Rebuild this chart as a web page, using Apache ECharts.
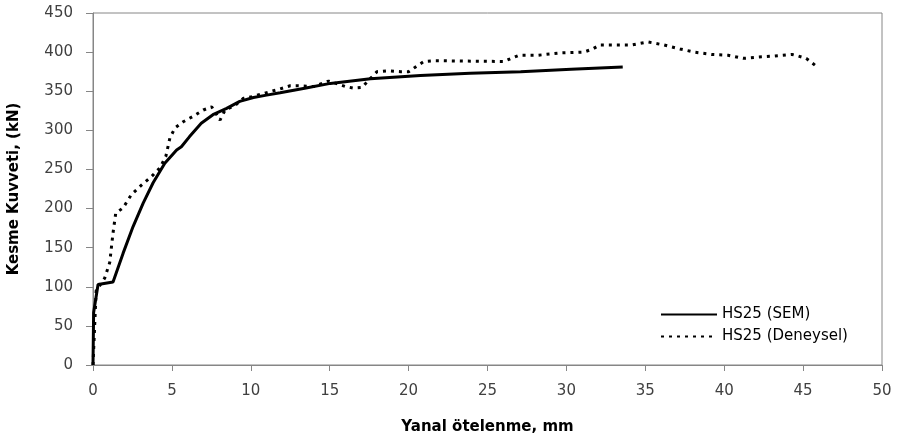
<!DOCTYPE html>
<html>
<head>
<meta charset="utf-8">
<script src="https://cdn.jsdelivr.net/npm/echarts@6/dist/echarts.min.js"></script>
<style>
html,body{margin:0;padding:0;background:#fff;}
#chart{width:903px;height:441px;}
</style>
</head>
<body>
<div id="chart"></div>
<script>
// HS25 (SEM)
var semX = [0, 0.04, 0.32, 1.27, 1.91, 2.54, 3.18, 3.81, 4.55, 5.3, 5.6, 6.12, 6.86, 7.6, 8.47, 9.3, 10.17, 11.0, 11.86, 13.5, 15.04, 17.58, 20.75, 23.9, 27.1, 30.3, 33.57];
var semY = [0, 67, 103, 106, 143, 177, 207, 233, 258, 275, 279, 292, 309, 320, 328, 337, 342, 345, 348, 354, 360, 366, 370, 373, 375, 378, 381];
// HS25 (Deneysel)
var denX = [0, 0.2, 0.74, 1.06, 1.27, 1.44, 1.91, 2.44, 3.07, 3.71, 4.24, 4.62, 4.87, 5.19, 5.72, 6.35, 6.99, 7.52, 7.84, 8.05, 8.37, 9.0, 9.54, 10.07, 11.86, 12.5, 13.03, 14.0, 14.93, 16.0, 16.5, 17.05, 17.37, 18.0, 18.64, 19.5, 20.0, 20.44, 20.97, 21.6, 26.05, 26.5, 27.0, 28.2, 29.65, 31.1, 31.67, 32.09, 34.1, 35.16, 36.2, 37.2, 38.1, 39.2, 40.25, 41.2, 42.4, 43.2, 44.3, 44.7, 45.2, 45.96];
var denY = [0, 95, 111, 131, 169, 194, 201, 218, 230, 241, 252, 267, 290, 303, 311, 318, 326, 330, 320, 313, 326, 332, 341, 343, 353, 357, 357, 356, 363, 356, 354, 355, 362, 375, 376, 375, 375, 381, 388, 389, 388, 392, 396, 396, 399, 400, 404, 409, 409, 413, 409, 404, 400, 397, 396, 392, 394, 395, 397, 395, 392, 380];
var seriesNames = ['HS25 (SEM)', 'HS25 (Deneysel)'];
var xTitle = 'Yanal ötelenme, mm';
var yTitle = 'Kesme Kuvveti, (kN)';

function zip(a, b) { return a.map(function (v, i) { return [v, b[i]]; }); }

var chart = echarts.init(document.getElementById('chart'), null, {renderer: 'canvas'});
var font = '"DejaVu Sans", sans-serif';
chart.setOption({
  animation: false,
  backgroundColor: '#fff',
  grid: {left: 93, right: 21, top: 13, bottom: 76, containLabel: false, outerBoundsMode: 'none',
         show: true, borderColor: '#868686', borderWidth: 1, backgroundColor: 'transparent'},
  legend: {
    left: 655, top: 302, orient: 'vertical', itemGap: 7, itemWidth: 56, itemHeight: 14,
    itemStyle: {opacity: 0},
    textStyle: {fontFamily: font, fontSize: 15, color: '#000'},
    data: seriesNames
  },
  xAxis: {
    type: 'value', min: 0, max: 50, interval: 5,
    name: xTitle, nameLocation: 'middle', nameGap: 55,
    nameTextStyle: {fontFamily: font, fontSize: 15, fontWeight: 'bold', color: '#000'},
    axisLine: {show: true, lineStyle: {color: '#868686', width: 1}},
    axisTick: {show: true, length: 6, lineStyle: {color: '#868686'}},
    axisLabel: {margin: 19, fontFamily: font, fontSize: 15, color: '#404040'},
    splitLine: {show: false}
  },
  yAxis: {
    type: 'value', min: 0, max: 450, interval: 50,
    name: yTitle, nameLocation: 'middle', nameGap: 71,
    nameTextStyle: {fontFamily: font, fontSize: 15, fontWeight: 'bold', color: '#000'},
    axisLine: {show: true, lineStyle: {color: '#868686', width: 1}},
    axisTick: {show: true, length: 7, lineStyle: {color: '#868686'}},
    axisLabel: {margin: 20, fontFamily: font, fontSize: 15, color: '#404040'},
    splitLine: {show: false}
  },
  series: [
    {
      name: seriesNames[0], type: 'line', data: zip(semX, semY),
      symbol: 'none', smooth: false,
      lineStyle: {color: '#000', width: 3}, itemStyle: {color: '#000'}, z: 3
    },
    {
      name: seriesNames[1], type: 'line', data: zip(denX, denY),
      symbol: 'none', smooth: false,
      lineStyle: {color: '#000', width: 3, type: [3, 5]}, itemStyle: {color: '#000'}, z: 2
    }
  ]
});
</script>
</body>
</html>
